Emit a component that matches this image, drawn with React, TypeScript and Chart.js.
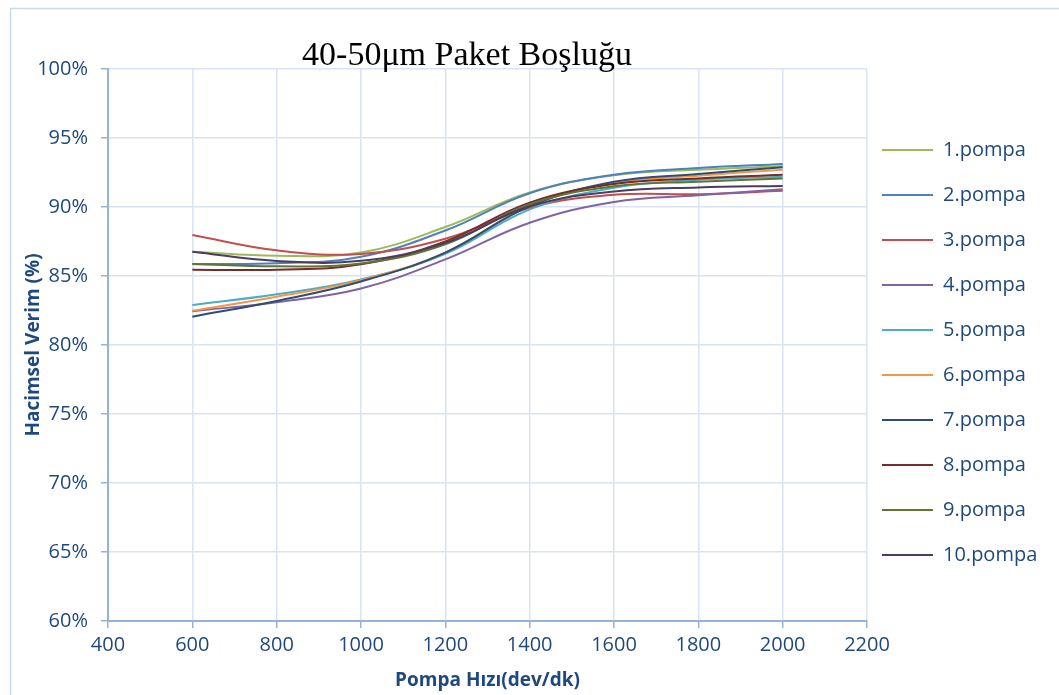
import { useEffect, useRef } from 'react';
import { Chart, registerables } from 'chart.js';

Chart.register(...registerables);

const TITLE = '40-50μm Paket Boşluğu';
const X_TITLE = 'Pompa Hızı(dev/dk)';
const Y_TITLE = 'Hacimsel Verim (%)';

const SPEEDS = [600, 800, 1000, 1200, 1400, 1600, 1800, 2000];

const SERIES_NAMES = ['1.pompa', '2.pompa', '3.pompa', '4.pompa', '5.pompa', '6.pompa', '7.pompa', '8.pompa', '9.pompa', '10.pompa'];
const COLORS = ['#9BBB59', '#4F81BD', '#C0504D', '#8064A2', '#4BACC6', '#F79646', '#2C4D75', '#772C2A', '#5F7530', '#4D3B62'];

const POMPA_1 = [86.76, 86.47, 86.7, 88.55, 91.05, 92.3, 92.7, 92.95];
const POMPA_2 = [85.87, 85.92, 86.4, 88.3, 91.0, 92.34, 92.82, 93.12];
const POMPA_3 = [87.97, 86.86, 86.6, 87.7, 89.95, 90.88, 90.93, 91.17];
const POMPA_4 = [82.45, 83.1, 84.1, 86.2, 88.86, 90.37, 90.85, 91.29];
const POMPA_5 = [82.9, 83.67, 84.75, 86.6, 89.83, 91.4, 91.97, 92.2];
const POMPA_6 = [82.49, 83.5, 84.7, 86.7, 90.1, 91.75, 92.27, 92.7];
const POMPA_7 = [82.05, 83.19, 84.6, 86.7, 90.05, 91.83, 92.39, 92.88];
const POMPA_8 = [85.46, 85.46, 85.85, 87.5, 90.32, 91.66, 92.07, 92.34];
const POMPA_9 = [85.87, 85.7, 85.9, 87.3, 90.2, 91.5, 91.83, 92.07];
const POMPA_10 = [86.76, 86.09, 86.1, 87.4, 90.05, 91.12, 91.42, 91.53];

const SERIES_VALUES = [POMPA_1, POMPA_2, POMPA_3, POMPA_4, POMPA_5, POMPA_6, POMPA_7, POMPA_8, POMPA_9, POMPA_10];

const X_MIN = 400;
const X_MAX = 2200;
const X_STEP = 200;
const Y_MIN = 60;
const Y_MAX = 100;
const Y_STEP = 5;

const TEXT_COLOR = '#1F497D';
const GRID_COLOR = '#D9E3F1';
const AXIS_COLOR = '#95B3D7';
const FONT = '"Open Sans", sans-serif';
const LEGEND_SIZE = 20;
const TICK_SIZE = 20;

export default function App() {
  const canvasRef = useRef<HTMLCanvasElement | null>(null);

  useEffect(() => {
    const canvas = canvasRef.current;
    if (!canvas) return;

    const measure = document.createElement('canvas').getContext('2d')!;
    measure.font = `${LEGEND_SIZE}px ${FONT}`;
    const textW = Math.max(...SERIES_NAMES.map((n) => measure.measureText(n).width));
    const legendW = 15 + 51 + LEGEND_SIZE / 2 + textW + 10;
    const padRight = Math.max(0, 1059 - 867 - legendW);

    const decor = {
      id: 'decor',
      beforeDraw(chart: any) {
        const ctx = chart.ctx;
        ctx.save();
        ctx.strokeStyle = '#C9D7EA';
        ctx.lineWidth = 1.5;
        ctx.beginPath();
        ctx.moveTo(10.5, 2000);
        ctx.lineTo(10.5, 8.5);
        ctx.lineTo(2000, 8.5);
        ctx.stroke();
        ctx.restore();
      },
      afterDraw(chart: any) {
        const ctx = chart.ctx;
        ctx.save();
        ctx.fillStyle = '#000000';
        ctx.font = '34px "Liberation Serif", "Times New Roman", serif';
        ctx.textAlign = 'center';
        ctx.textBaseline = 'middle';
        ctx.fillText(TITLE, 467, 56);
        ctx.restore();
      },
    };

    const chart = new Chart(canvas, {
      type: 'line',
      data: {
        datasets: SERIES_NAMES.map((name, i) => ({
          label: name,
          data: SPEEDS.map((x, j) => ({ x, y: SERIES_VALUES[i][j] })),
          borderColor: COLORS[i],
          backgroundColor: COLORS[i],
          borderWidth: 2,
          pointRadius: 0,
          pointHoverRadius: 0,
          tension: 0.4,
          fill: false,
          order: -i,
        })),
      },
      options: {
        animation: false,
        responsive: true,
        maintainAspectRatio: false,
        layout: { padding: { top: 69, left: 0, right: padRight, bottom: 0 } },
        plugins: {
          title: { display: false },
          tooltip: { enabled: false },
          legend: {
            position: 'right',
            fullSize: false,
            title: { display: true, text: '', font: { size: 1, lineHeight: 1 }, padding: 12 },
            labels: {
              color: TEXT_COLOR,
              font: { family: FONT, size: LEGEND_SIZE, lineHeight: 1.5 },
              padding: 15,
              usePointStyle: true,
              pointStyle: 'line',
              pointStyleWidth: 51,
              generateLabels: (chart: any) => {
                const items = Chart.defaults.plugins.legend.labels.generateLabels(chart);
                const mapped = items.map((it: any) => ({ ...it, text: [it.text], lineWidth: 2 }));
                mapped.sort((a: any, b: any) => SERIES_NAMES.indexOf(a.text[0]) - SERIES_NAMES.indexOf(b.text[0]));
                return mapped;
              },
            },
          },
        },
        scales: {
          x: {
            type: 'linear',
            min: X_MIN,
            max: X_MAX,
            afterFit: (s: any) => { s.height = 74; },
            ticks: {
              stepSize: X_STEP,
              color: TEXT_COLOR,
              font: { family: FONT, size: TICK_SIZE },
              padding: 5,
              maxRotation: 0,
              callback: (v: any) => String(v),
            },
            grid: { color: GRID_COLOR, lineWidth: 1.5, tickColor: AXIS_COLOR, tickLength: 7 },
            border: { color: AXIS_COLOR, width: 2 },
            title: {
              display: true,
              text: X_TITLE,
              color: TEXT_COLOR,
              font: { family: FONT, size: 19, weight: 'bold' },
              padding: { top: 0, bottom: 3 },
            },
          },
          y: {
            type: 'linear',
            min: Y_MIN,
            max: Y_MAX,
            afterFit: (s: any) => { s.width = 108; },
            ticks: {
              stepSize: Y_STEP,
              color: TEXT_COLOR,
              font: { family: FONT, size: TICK_SIZE },
              padding: 13,
              callback: (v: any) => v + '%',
            },
            grid: { color: GRID_COLOR, lineWidth: 1.5, tickColor: AXIS_COLOR, tickLength: 7 },
            border: { color: AXIS_COLOR, width: 2 },
            title: {
              display: true,
              text: Y_TITLE,
              color: TEXT_COLOR,
              font: { family: FONT, size: 19, weight: 'bold' },
              padding: { top: 22, bottom: 0 },
            },
          },
        },
      },
      plugins: [decor],
    });

    return () => chart.destroy();
  }, []);

  return (
    <div style={{ position: 'fixed', left: 0, top: 0, width: 1059, height: 695, background: '#ffffff' }}>
      <canvas ref={canvasRef} />
    </div>
  );
}
